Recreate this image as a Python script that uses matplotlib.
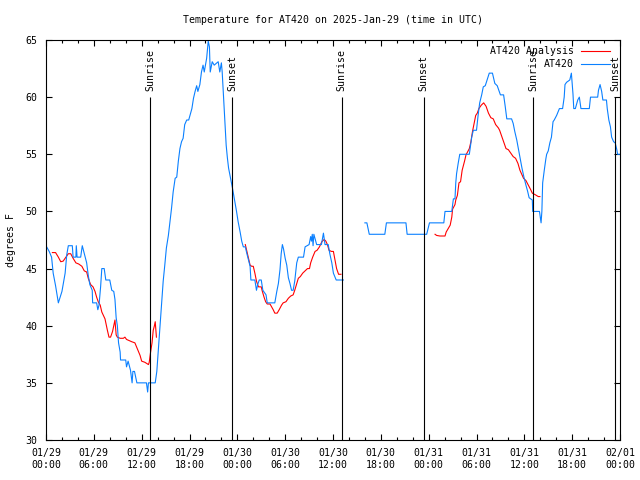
import numpy as np
import pandas as pd
import matplotlib
matplotlib.use("Agg")
import matplotlib.pyplot as plt
import matplotlib.dates as mdates

DPI = 100
FONT = "DejaVu Sans Mono"
FS = 7.1

plt.rcParams["font.family"] = FONT
plt.rcParams["font.size"] = FS

start = pd.Timestamp("2025-01-29 00:00")

# observed temperature, hours after start / degrees F (nan = no data)
obs_hours = [
    0.0, 0.4, 0.7, 0.9, 1.2, 1.55, 2.0, 2.4, 2.6, 2.8, 3.3, 3.4, 3.75, 3.8, 3.9,
    4.35, 4.55, 4.8, 5.1, 5.3, 5.5, 5.8, 5.85, 6.35, 6.5, 6.65, 6.85, 7.0, 7.3,
    7.5, 8.0, 8.25, 8.5, 8.65, 8.8, 8.95, 9.1, 9.3, 9.35, 10.0, 10.1, 10.3, 10.6,
    10.8, 10.9, 11.1, 11.4, 12.6, 12.75, 12.85, 13.7, 13.9, 14.1, 14.3, 14.5,
    14.7, 14.9, 15.1, 15.35, 15.55, 15.75, 15.95, 16.2, 16.4, 16.6, 16.8, 17.0,
    17.2, 17.4, 17.65, 17.9, 18.3, 18.5, 18.7, 18.9, 19.05, 19.3, 19.5, 19.7,
    19.85, 20.15, 20.35, 20.5, 20.6, 20.85, 21.1, 21.6, 21.8, 22.0, 22.1, 22.25,
    22.45, 22.6, 22.75, 22.9, 23.15, 23.4, 23.6, 23.9, 24.1, 24.35, 24.55, 24.75,
    25.0, 25.2, 25.4, 25.6, 25.7, 26.2, 26.4, 26.55, 26.75, 27.0, 27.2, 27.6,
    27.75, 28.7, 28.95, 29.15, 29.35, 29.5, 29.65, 29.8, 30.0, 30.2, 30.4, 30.6,
    30.8, 31.0, 31.2, 31.45, 31.65, 32.3, 32.5, 33.0, 33.2, 33.3, 33.4, 33.5,
    33.6, 33.95, 34.55, 34.8, 35.0, 35.4, 35.6, 35.85, 36.05, 36.4, 37.3,
    38.5,
    40.0, 40.25, 40.55, 42.5, 42.7, 45.15, 45.3, 47.75, 48.1, 49.9, 50.05, 50.9,
    51.1, 51.3, 51.4, 51.5, 51.7, 51.9, 53.1, 53.2, 53.4, 53.6, 54.0, 54.2, 54.4,
    54.65, 54.85, 55.1, 55.6, 56.0, 56.3, 56.6, 57.0, 57.4, 57.6, 57.8, 58.4,
    58.6, 58.8, 59.05, 59.25, 59.45, 59.7, 59.95, 60.2, 60.4, 60.6, 61.0, 61.05,
    61.9, 62.1, 62.2, 62.3, 62.5, 62.7, 62.8, 63.0, 63.2, 63.4, 63.6, 63.75,
    64.05, 64.4, 64.8, 65.0, 65.1, 65.3, 65.7, 65.9, 66.1, 66.2, 66.4, 66.7,
    66.9, 67.0, 67.1, 68.15, 68.3, 69.2, 69.3, 69.5, 69.7, 69.85, 70.3, 70.4,
    70.6, 70.8, 70.95, 71.2, 71.4, 71.6, 71.7, 72.0,
]
obs_temp = [
    47.0, 46.5, 46.0, 44.6, 43.5, 42.0, 43.0, 44.6, 46.2, 47.0, 47.0, 46.0, 46.0, 47.0, 46.0,
    46.0, 47.0, 46.3, 45.5, 44.4, 43.6, 43.1, 42.0, 42.0, 41.4, 41.8, 43.4, 45.0, 45.0,
    44.0, 44.0, 43.1, 43.0, 42.3, 40.7, 40.0, 38.5, 37.7, 37.0, 37.0, 36.4, 36.9, 36.1,
    35.0, 36.0, 36.0, 35.0, 35.0, 34.2, 35.0, 35.0, 36.0, 38.0, 40.0, 42.1,
    43.9, 45.3, 46.8, 47.9, 49.1, 50.3, 51.7, 52.9, 53.0, 54.4, 55.5, 56.1,
    56.4, 57.6, 58.0, 58.0, 59.0, 59.9, 60.5, 61.0, 60.5, 61.1, 62.2, 62.8,
    62.2, 63.4, 64.9, 64.4, 62.2, 63.1, 62.8, 63.1, 62.2, 63.0, 62.2, 60.3,
    57.9, 55.8, 54.7, 53.8, 52.9, 52.0, 51.2, 50.0, 49.1, 48.2, 47.4, 46.9,
    46.9, 46.3, 45.75, 45.2, 44.0, 44.0, 43.1, 43.6, 44.0, 44.0, 43.1, 42.7,
    42.0, 42.0, 43.0, 43.7, 44.9, 46.3, 47.1, 46.7, 45.9, 45.3, 44.2, 43.7,
    43.1, 43.1, 43.9, 45.5, 46.0, 46.0, 46.9, 47.1, 47.8, 47.4, 48.0, 47.0,
    48.0, 47.1, 47.1, 48.1, 47.1, 47.1, 46.3, 45.5, 44.6, 44.0, 44.0,
    np.nan,
    49.0, 49.0, 48.0, 48.0, 49.0, 49.0, 48.0, 48.0, 49.0, 49.0, 50.0, 50.0,
    51.1, 51.1, 52.5, 53.3, 54.2, 55.0, 55.0, 55.5, 56.5, 57.1, 57.1, 58.4, 59.5,
    60.2, 60.9, 61.0, 62.1, 62.1, 61.2, 61.0, 60.2, 60.2, 59.2, 58.1, 58.1,
    57.7, 57.0, 56.25, 55.5, 54.8, 53.8, 53.0, 52.3, 51.8, 51.2, 51.0, 50.0,
    50.0, 49.0, 50.0, 52.5, 53.6, 54.6, 55.0, 55.3, 56.0, 56.5, 57.85, 58.0,
    58.4, 59.0, 59.0, 60.0, 61.1, 61.3, 61.5, 62.1, 60.3, 59.0, 59.0, 59.75,
    60.0, 59.5, 59.0, 59.0, 60.0, 60.0, 60.6, 61.1, 60.5, 59.75, 59.75, 59.0,
    58.0, 57.4, 56.5, 56.1, 56.0, 55.4, 55.0, 55.0,
]

# analysis temperature
ana_hours = [
    0.8, 1.2, 1.55, 1.85, 2.15, 2.5, 2.8, 3.1, 3.4, 3.75, 4.1, 4.5, 4.8, 5.1,
    5.3, 5.6, 5.9, 6.15, 6.35, 6.55, 6.8, 7.0, 7.4, 7.7, 7.9, 8.1, 8.35, 8.65,
    8.8, 8.95, 9.3, 9.7, 9.9, 10.1, 10.75, 11.15, 11.45, 11.8, 12.0, 12.4,
    12.85, 12.95, 13.1, 13.3, 13.45, 13.6, 13.7, 13.85,
    20.0,
    25.0, 25.2, 25.4, 25.6, 25.8, 26.0, 26.2, 26.4, 26.65, 27.0, 27.1, 27.35,
    27.55, 27.75, 28.1, 28.5, 28.7, 29.0, 29.25, 29.55, 29.75, 30.1, 30.4, 30.7,
    31.0, 31.2, 31.45, 31.65, 31.9, 32.2, 32.5, 32.8, 33.05, 33.2, 33.45, 33.75,
    34.0, 34.3, 34.6, 34.9, 35.1, 35.3, 35.5, 35.8, 36.05, 36.25, 36.45, 36.7,
    37.0,
    42.0,
    48.8, 49.0, 49.4, 50.05, 50.2, 50.45, 50.7, 50.9, 51.0, 51.3, 51.4, 51.6,
    51.8, 52.0, 52.2, 52.5, 52.7, 52.8, 53.1, 53.3, 53.5, 53.7, 53.9, 54.1,
    54.3, 54.6, 54.9, 55.2, 55.5, 55.8, 56.1, 56.4, 56.75, 56.9, 57.2, 57.45,
    57.7, 58.0, 58.3, 58.6, 58.9, 59.2, 59.45, 59.7, 59.9, 60.2, 60.5, 60.8,
    61.0, 61.4, 61.75, 61.95,
]
ana_temp = [
    46.4, 46.4, 46.0, 45.6, 45.65, 46.0, 46.3, 46.3, 45.9, 45.5, 45.4, 45.2, 44.8, 44.7,
    44.15, 43.6, 43.4, 43.0, 42.5, 42.1, 41.8, 41.2, 40.6, 39.6, 39.0, 39.0, 39.5, 40.5,
    39.2, 39.0, 38.9, 38.9, 39.0, 38.8, 38.6, 38.5, 38.0, 37.4, 36.9, 36.8,
    36.6, 36.8, 37.6, 38.5, 39.6, 40.0, 40.35, 39.0,
    np.nan,
    47.1, 46.5, 45.9, 45.3, 45.2, 45.2, 44.6, 43.9, 43.4, 43.4, 43.1, 42.5,
    42.1, 41.9, 41.9, 41.4, 41.1, 41.1, 41.4, 41.8, 42.0, 42.1, 42.4, 42.6,
    42.7, 43.1, 43.7, 44.15, 44.3, 44.6, 44.8, 45.0, 45.0, 45.5, 46.0, 46.5,
    46.6, 46.9, 47.35, 47.55, 47.4, 47.1, 46.6, 46.5, 46.5, 45.75, 45.0, 44.5,
    44.5,
    np.nan,
    48.0, 47.9, 47.85, 47.85, 48.2, 48.5, 48.8, 49.5, 50.2, 50.6, 51.0, 51.4,
    52.5, 52.6, 53.6, 54.4, 55.0, 55.1, 55.5, 56.1, 57.0, 57.7, 58.4, 58.6,
    59.0, 59.3, 59.5, 59.2, 58.6, 58.2, 58.1, 57.6, 57.3, 57.1, 56.5, 56.0,
    55.5, 55.4, 55.1, 54.8, 54.65, 54.2, 53.6, 53.2, 52.9, 52.7, 52.3, 51.9,
    51.6, 51.45, 51.3, 51.3,
]

sunrise_hours = [13.08, 37.1, 61.13]
sunset_hours = [23.37, 47.38, 71.42]


def to_time(h):
    return start + pd.to_timedelta(np.asarray(h, dtype=float), unit="h")


fig = plt.figure(figsize=(640 / DPI, 480 / DPI), dpi=DPI)
ax = fig.add_axes([46 / 640, 40 / 480, 574 / 640, 400 / 480])

ax.plot(to_time(ana_hours), ana_temp, color="#ff0000", lw=0.8, label="AT420 Analysis")
ax.plot(to_time(obs_hours), obs_temp, color="#0a80ff", lw=0.8, label="AT420")

ax.vlines(to_time(sunrise_hours), 30, 60, color="black", lw=0.8)
ax.vlines(to_time(sunset_hours), 30, 60, color="black", lw=0.8)
for t in to_time(sunrise_hours):
    ax.text(t, 60.5, "Sunrise", rotation=90, ha="center", va="bottom")
for t in to_time(sunset_hours):
    ax.text(t, 60.5, "Sunset", rotation=90, ha="center", va="bottom")

ax.set_xlim(to_time([0])[0], to_time([72])[0])
ax.set_ylim(30, 65)
ax.set_yticks(np.arange(30, 66, 5))
ax.xaxis.set_major_locator(mdates.HourLocator(byhour=range(0, 24, 6)))
ax.xaxis.set_minor_locator(mdates.HourLocator(byhour=range(0, 24, 2)))
ax.xaxis.set_major_formatter(mdates.DateFormatter("%m/%d\n%H:%M"))

ax.tick_params(which="both", direction="in", top=True, right=True, width=0.8)
ax.tick_params(which="major", length=4.5)
ax.tick_params(which="minor", length=2.5)
ax.tick_params(axis="y", pad=6)
ax.tick_params(axis="x", pad=6)
for s in ax.spines.values():
    s.set_linewidth(0.8)

ax.set_title("Temperature for AT420 on 2025-Jan-29 (time in UTC)", pad=12, fontsize=FS)
ax.set_ylabel("degrees F")
ax.yaxis.set_label_coords(-0.052, 0.5)

ax.legend(loc="upper right", bbox_to_anchor=(0.9826, 0.985), borderaxespad=0,
          borderpad=0, handlelength=2.95, handletextpad=0.7, labelspacing=0.3,
          frameon=False, markerfirst=False)

fig.savefig("out.png", dpi=DPI)
